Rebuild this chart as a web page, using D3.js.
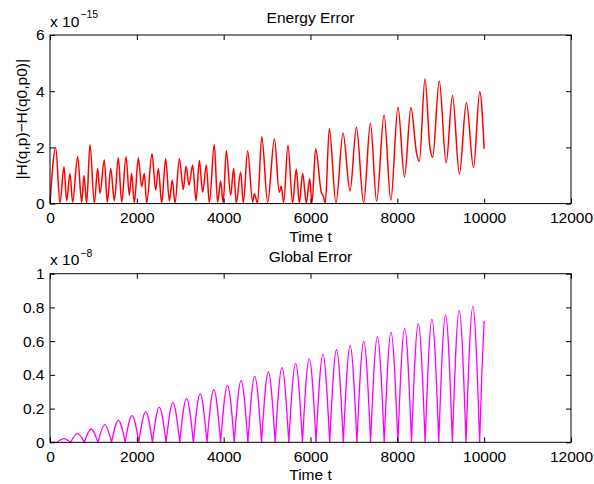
<!DOCTYPE html>
<html>
<head>
<meta charset="utf-8">
<script src="https://cdn.jsdelivr.net/npm/d3@7"></script>
<style>
  body { margin: 0; background: #fff; }
  svg text { font-family: "Liberation Sans", Arial, Helvetica, sans-serif; fill: #000; }
</style>
</head>
<body>
<div id="chart"></div>
<script>
// energy error |H(q,p)-H(q0,p0)|, in units of 1e-15 (peaks and troughs)
var energyT = [0, 131, 230, 322, 384, 460, 522, 637, 729, 783, 844, 921, 1021, 1098, 1151, 1251, 1321, 1398, 1482, 1574,
  1651, 1751, 1827, 1881, 1942, 2034, 2111, 2173, 2226, 2350, 2434, 2496, 2572, 2664, 2749, 2817, 2879, 2980, 3071, 3133,
  3202, 3286, 3363, 3440, 3516, 3600, 3670, 3784, 3860, 3930, 3990, 4060, 4161, 4230, 4290, 4390, 4453, 4552, 4668, 4706,
  4780, 4878, 5013, 5170, 5280, 5327, 5381, 5481, 5588, 5673, 5742, 5819, 5904, 5980, 6034, 6118, 6250, 6287, 6341, 6433,
  6587, 6750, 6910, 7058, 7224, 7380, 7523, 7695, 7850, 8015, 8165, 8314, 8444, 8506, 8637, 8751, 8813, 8966, 9125, 9270,
  9430, 9590, 9755, 9898, 10000];
var energyV = [0, 1.99, 0.03, 1.31, 0.1, 1.07, 0.05, 1.67, 0.05, 1.0, 0.02, 2.09, 0.02, 1.25, 0.36, 1.55, 0.05, 1.25, 0.1, 1.63,
  0.05, 1.67, 0.3, 1.07, 0.02, 1.63, 0.6, 1.07, 0.02, 1.77, 0.48, 1.25, 0.02, 1.6, 0.1, 0.84, 0.02, 1.6, 0.5, 1.33,
  0.66, 1.37, 0.1, 1.53, 0.4, 1.37, 0.02, 2.1, 0.05, 0.8, 0.03, 1.88, 0.3, 1.25, 0.02, 1.12, 0.02, 1.88, 0.05, 0.35,
  0.02, 2.38, 0.05, 2.3, 0.4, 0.62, 0.03, 2.08, 0.02, 1.22, 0.02, 1.08, 0.02, 0.88, 0.02, 1.95, 0.4, 0.3, 0.02, 2.66,
  0.02, 2.5, 0.45, 2.72, 0.03, 2.86, 0.08, 3.15, 0.12, 3.43, 0.95, 3.42, 1.78, 1.5, 4.43, 2.0, 1.65, 4.36, 1.45, 3.85,
  1.05, 3.6, 1.28, 3.98, 1.95];

// global error, in units of 1e-8: zeros of each arch and the arch heights
var archZeros = [162, 476, 790, 1104, 1418, 1732, 2046, 2360, 2674, 2988, 3302, 3616, 3930, 4244, 4558, 4872,
  5186, 5500, 5814, 6128, 6442, 6756, 7070, 7384, 7698, 8012, 8326, 8640, 8954, 9268, 9582, 9896];
var archPeaks = [0.022, 0.051, 0.079, 0.105, 0.130, 0.158, 0.182, 0.209, 0.235, 0.261, 0.287, 0.312, 0.338, 0.366, 0.391,
  0.417, 0.443, 0.468, 0.496, 0.522, 0.549, 0.573, 0.599, 0.625, 0.652, 0.676, 0.704, 0.729, 0.755, 0.783, 0.806];
var tailT = [9896, 9948, 10000];
var tailV = [0, 0.42, 0.72];

var xTicks = [0, 2000, 4000, 6000, 8000, 10000, 12000];
var energyTicks = [0, 2, 4, 6];
var globalTicks = [0, 0.2, 0.4, 0.6, 0.8, 1];

var width = 594, height = 484;
var left = 50, right = 571;
var fs = 15.5;

var svg = d3.select("#chart").append("svg")
  .attr("width", width)
  .attr("height", height);

var x = d3.scaleLinear().domain([0, 12000]).range([left, right]);

function draw_axes(top, bottom, yscale, yticks, ytickfmt) {
  var g = svg.append("g");
  g.append("rect")
    .attr("x", left).attr("y", top)
    .attr("width", right - left).attr("height", bottom - top)
    .attr("fill", "none").attr("stroke", "#000").attr("stroke-width", 1);

  var axes = [
    [d3.axisBottom(x).tickValues(xTicks).tickFormat(d3.format("d")).tickPadding(8.4), "translate(0," + bottom + ")"],
    [d3.axisTop(x).tickValues(xTicks).tickFormat(""), "translate(0," + top + ")"],
    [d3.axisLeft(yscale).tickValues(yticks).tickFormat(ytickfmt).tickPadding(5.5), "translate(" + left + ",0)"],
    [d3.axisRight(yscale).tickValues(yticks).tickFormat(""), "translate(" + right + ",0)"]
  ];
  axes.forEach(function (a) {
    var ax = g.append("g")
      .attr("transform", a[1])
      .call(a[0].tickSizeInner(-5).tickSizeOuter(0));
    ax.select(".domain").remove();
    ax.selectAll("line").attr("stroke", "#000");
    ax.selectAll("text")
      .style("font-size", fs + "px")
      .style("font-family", "'Liberation Sans', Arial, sans-serif")
      .attr("fill", "#000");
  });
}

function draw_texts(top, bottom, title, exp) {
  svg.append("text")
    .attr("x", (left + right) / 2).attr("y", top - 12)
    .attr("text-anchor", "middle")
    .style("font-size", fs + "px")
    .text(title);
  svg.append("text")
    .attr("x", (left + right) / 2).attr("y", bottom + 38)
    .attr("text-anchor", "middle")
    .style("font-size", fs + "px")
    .text("Time t");
  var t = svg.append("text")
    .attr("x", left).attr("y", top - 8.5)
    .style("font-size", fs + "px");
  t.append("tspan").text("x 10");
  t.append("tspan")
    .attr("dy", -8.4)
    .attr("dx", 1)
    .style("font-size", "10.5px")
    .text(exp);
}

// ---- top: energy error
var top1 = 35, bottom1 = 203.6;
var y1 = d3.scaleLinear().domain([0, 6]).range([bottom1, top1]);

var energy = energyT.map(function (t, i) { return [t, energyV[i]]; });

svg.append("path")
  .datum(energy)
  .attr("fill", "none")
  .attr("stroke", "#ff0000")
  .attr("stroke-width", 1.5)
  .attr("stroke-linejoin", "round")
  .attr("d", d3.line()
    .x(function (d) { return x(d[0]); })
    .y(function (d) { return y1(d[1]); })
    .curve(d3.curveMonotoneX));

draw_axes(top1, bottom1, y1, energyTicks, d3.format("d"));
draw_texts(top1, bottom1, "Energy Error", "\u221215");

svg.append("text")
  .attr("transform", "rotate(-90)")
  .attr("x", -(top1 + bottom1) / 2)
  .attr("y", 27)
  .attr("text-anchor", "middle")
  .style("font-size", fs + "px")
  .text("|H(q,p)\u2212H(q0,p0)|");

// ---- bottom: global error
var top2 = 273.7, bottom2 = 442.3;
var y2 = d3.scaleLinear().domain([0, 1]).range([bottom2, top2]);

var archLine = d3.line()
  .x(function (d) { return x(d[0]); })
  .y(function (d) { return y2(d[1]); })
  .curve(d3.curveNatural);

var flat = d3.line()
  .x(function (d) { return x(d[0]); })
  .y(function (d) { return y2(d[1]); });

var pathStr = flat([[0, 0], [archZeros[0], 0]]);
archPeaks.forEach(function (p, i) {
  var z0 = archZeros[i], z1 = archZeros[i + 1];
  pathStr += archLine([[z0, 0], [(z0 + z1) / 2, p], [z1, 0]]);
});
pathStr += archLine(tailT.map(function (t, i) { return [t, tailV[i]]; }));

svg.append("path")
  .attr("d", pathStr)
  .attr("fill", "none")
  .attr("stroke", "#ff00ff")
  .attr("stroke-width", 1.3);

draw_axes(top2, bottom2, y2, globalTicks, function (d) { return d === 0 ? "0" : d === 1 ? "1" : d3.format(".1f")(d); });
draw_texts(top2, bottom2, "Global Error", "\u22128");
</script>
</body>
</html>
